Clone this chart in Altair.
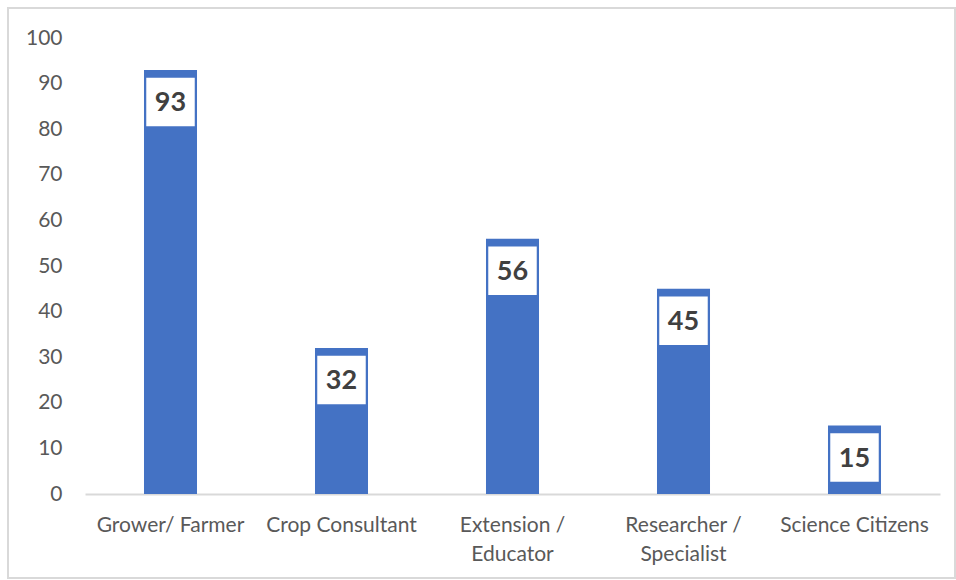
import altair as alt
import pandas as pd

categories = ["Grower/ Farmer", "Crop Consultant", "Extension /\nEducator",
              "Researcher /\nSpecialist", "Science Citizens"]
values = [93, 32, 56, 45, 15]

df = pd.DataFrame({"cat": categories, "val": values})

FONT = "Lato"

x = alt.X("cat:N", sort=categories, title=None,
          scale=alt.Scale(paddingInner=0.69, paddingOuter=0.345),
          axis=alt.Axis(labelAngle=0, labelExpr="split(datum.label, '\\n')",
                        labelFontSize=21, labelColor="#595959", labelFont=FONT,
                        labelPadding=20, labelLineHeight=29, ticks=False,
                        domainColor="#d9d9d9", domainWidth=2, labelLimit=300))
y = alt.Y("val:Q", title=None,
          scale=alt.Scale(domain=[0, 100], nice=False),
          axis=alt.Axis(values=list(range(0, 101, 10)), grid=False, domain=False,
                        ticks=False, labelFontSize=21, labelColor="#595959",
                        labelFont=FONT, labelPadding=23))

bars = alt.Chart(df).mark_bar(color="#4472C4").encode(x=x, y=y)

boxes = alt.Chart(df).mark_point(shape="square", filled=True, color="white",
                                 size=2350, opacity=1, yOffset=32).encode(
    x=alt.X("cat:N", sort=categories), y="val:Q")

labels = alt.Chart(df).mark_text(font=FONT, fontSize=27, fontWeight="bold",
                                 color="#404040", yOffset=33, baseline="middle").encode(
    x=alt.X("cat:N", sort=categories), y="val:Q", text="val:Q")

border = alt.Chart(df).mark_rect(fill=None, stroke="#d9d9d9", strokeWidth=1.5).encode(
    x=alt.value(-77), x2=alt.value(870), y=alt.value(-30), y2=alt.value(540))

chart = alt.layer(border, bars, boxes, labels).properties(
    width=855, height=456,
    background="white",
    autosize=alt.AutoSizeParams(type="none"),
    padding={"left": 85, "top": 38, "right": 16, "bottom": 86},
).configure_view(strokeWidth=0, stroke="transparent")

chart.save("out.html", embed_options={"renderer": "svg", "actions": False})
